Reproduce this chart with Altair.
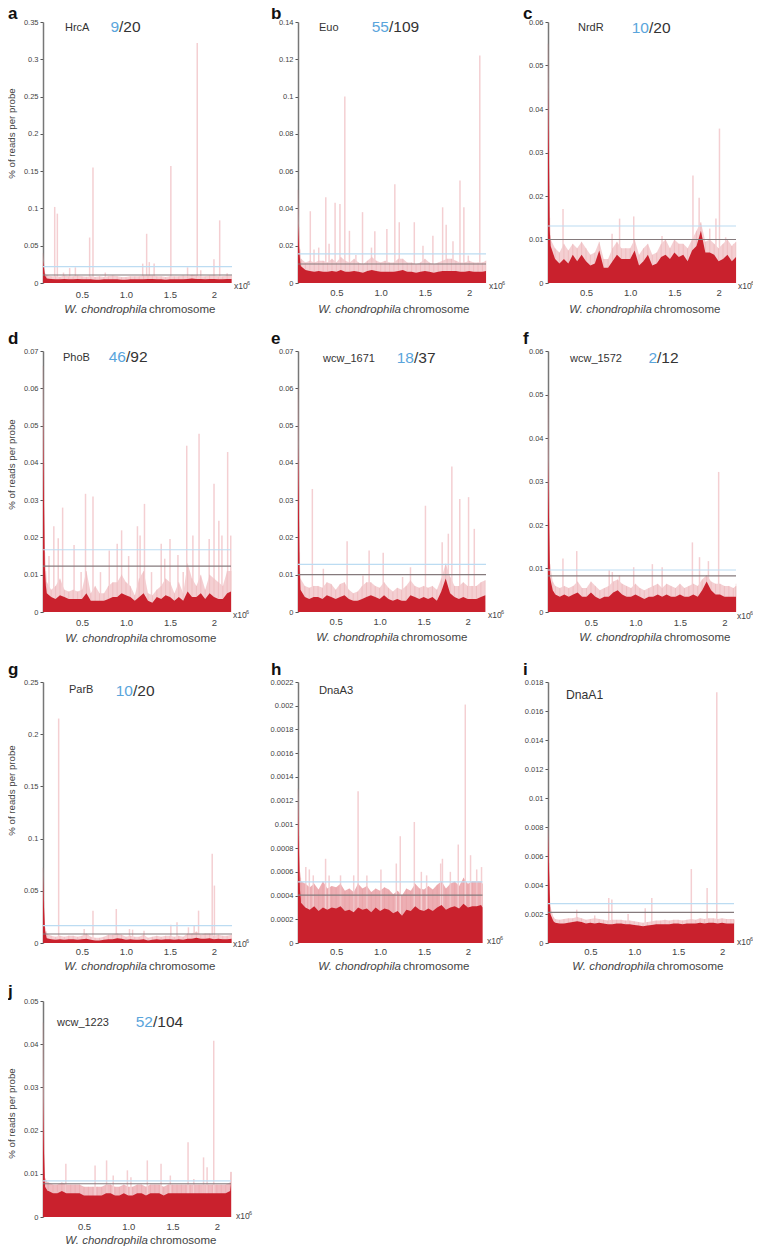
import altair as alt

FONT = "Liberation Sans"
POS = [0.10,0.15,0.20,0.25,0.30,0.35,0.40,0.45,0.50,0.55,
       0.60,0.65,0.70,0.75,0.80,0.85,0.90,0.95,1.00,1.05,
       1.10,1.15,1.20,1.25,1.30,1.35,1.40,1.45,1.50,1.55,
       1.60,1.65,1.70,1.75,1.80,1.85,1.90,1.95,2.00,2.05,
       2.10,2.15,2.20]

# profiles in units of 0.001 %
A_DARK = [6,5.5,5,5,5.5,5,5,5.5,5,5, 5,4.5,4.5,5,5,5,5,4.5,4.5,5, 5,5,5,5.5,5.5,5,5,4.5,5,5, 5,5,5.5,6,5.5,5.5,5,5.5,5.5,5, 5,5.5,5.5]
A_FUZZ = [11,9,9,8.5,10,9,9,10,9,8.5, 9,8,9,8,9,10,9,8,8,9, 9,9,10,10,10,9,9,8,9,9, 9,10,9,11,10,9,9,10,10,9, 9,10,10]
B_DARK = [9,7,6.5,6,6.5,6,6,6.5,6,7, 6,6,6.5,6,5.5,6.5,7,6.5,6,6, 6,6,6.5,7,6,6,5.5,6,6.5,6, 5.5,6,6.5,6.5,6.5,6.5,6,6,6.5,6, 6,6,6.5]
B_FUZZ = [13,11,12,11,12,12,11,13,11,14, 12,11,13,11,10,12,14,12,11,12, 11,11,13,13,11,11,10,11,13,11, 10,11,12,13,13,12,11,11,12,11, 11,11,12]
C_DARK = [8.5,5.5,4.5,5.5,4.5,6.5,5,6.5,5,4, 4.5,7.5,3.5,3.5,5,6.5,5.5,5.5,5.5,7.5, 4,5,6.5,4,4.5,6,6.5,5.5,7,6, 6.5,5,7.5,8.5,12,7,7,6.5,5,5.5, 6.5,5,6]
C_FUZZ = [10,8,7,9,7.5,9,8,9.5,8,6.5, 7,9.5,5.5,5.5,8,9.5,8,8,8,10, 6.5,8,9,6.5,7,9,10,8,10,9, 9,8,10,12,14,9.5,10,9,8,9, 10,8.5,9.5]
D_DARK = [5,4,3.5,4.5,4,3.5,3.5,3.5,3.5,5, 3,3,3,3,3.5,4,4,5,4.5,4, 3,4,5,3,2.5,4,3.5,4.5,4,3, 4,3,5.5,4,4,5,3.5,5,4,3.5, 3.5,5,5.5]
D_FUZZ = [8,6,7,9,6,5.5,6,5.5,6,11, 5,7,5,5,7,8,8,10,8,7, 4.5,9,11,5,4.5,6,7,9,8,5, 8,5,13,9,7,10,6,10,9,8, 7,11,11]
E_DARK = [6,4,3.5,4,4,3.5,4.5,4,3.5,4, 4.5,3.5,3,3,3.5,4,4.5,4,3.5,4.5, 3.5,3,3.5,3,3,4.5,4,3.5,4,3.5, 4,3,5.5,9,5,4,3.5,4,3.5,3.5, 3.5,4,4.5]
E_FUZZ = [9,7,6.5,7,7,6.5,8,7.5,6,7.5, 8,6,5,5.5,7,8,8,7,6.5,8, 6.5,5.5,6.5,6,7,8.5,7,6.5,7,6.5, 7,6,9,13,9.5,7,7,8,7,7, 7,8,8.5]
F_DARK = [4,3.5,4,3.5,4,4.5,3.5,3.5,4.5,3.5, 3,3.5,3.5,4.5,5,4,3.5,3.5,4,3.5, 3,3.5,3.5,4,3.5,4,3.5,3.5,4,3.5, 3.5,4,3.5,5,7,5,4,4,3.5,3.5, 3.5,3.5,4]
F_FUZZ = [6,5.5,6,5.5,6,7,5.5,5.5,7,6, 5,5.5,6,7,7.5,6.5,6,5.5,6.5,5.5, 5,5.5,6,6.5,5.5,6.5,6,5.5,6.5,5.5, 6,6.5,6,7.5,8.5,7,6.5,6.5,6,6, 5.5,6,6.5]
G_DARK = [4.5,3.5,3,3.5,3,3.5,3.5,3,3.5,4, 3,2.5,2.5,3,3.5,3.5,4.5,4,3,3.5, 3,3,3.5,2.5,3,3.5,3,3.5,3.5,3, 3.5,3,4,4,5,4,4,4.5,3.5,4, 3.5,3.5,4]
G_FUZZ = [9,7,6,7,6,7,7,6,7,9, 6,5,5,6,8,8,9,8,6,7, 6,6,8,5,6,7,6,7,7,6, 7,6,9,9,11,8,9,9,7,8, 7,7,8]
H_DARK = [.34,.30,.28,.31,.27,.30,.28,.30,.29,.31, .27,.28,.26,.30,.28,.29,.26,.30,.27,.29, .28,.25,.27,.23,.28,.27,.31,.28,.27,.29, .27,.30,.32,.28,.30,.31,.29,.33,.30,.31, .31,.32,.30]
H_FUZZ = [.52,.50,.47,.50,.45,.52,.46,.48,.47,.50, .44,.46,.43,.50,.46,.48,.43,.46,.44,.47, .45,.41,.44,.40,.46,.44,.50,.46,.45,.48, .45,.49,.52,.46,.50,.52,.48,.55,.50,.52, .52,.52,.50]
I_DARK = [1.4,1.35,1.35,1.4,1.45,1.5,1.45,1.35,1.4,1.35, 1.4,1.35,1.3,1.3,1.35,1.35,1.3,1.3,1.25,1.2, 1.15,1.2,1.25,1.3,1.3,1.3,1.3,1.35,1.35,1.3, 1.35,1.35,1.35,1.4,1.35,1.4,1.4,1.35,1.4,1.35, 1.35,1.35,1.35]
I_FUZZ = [1.65,1.6,1.65,1.7,1.7,1.8,1.7,1.6,1.65,1.7, 1.65,1.6,1.55,1.6,1.6,1.6,1.55,1.55,1.5,1.45, 1.4,1.45,1.5,1.55,1.55,1.6,1.55,1.6,1.6,1.55, 1.6,1.65,1.6,1.7,1.65,1.7,1.7,1.65,1.7,1.65, 1.65,1.65,1.6]
J_DARK = [6,5.5,5.5,6,5.5,5.5,5.5,5.5,5,5, 5,5,5,5.5,5.5,5,5,5.5,5,5, 5.5,5.5,5,5.5,5.5,5.5,5,5.5,5.5,5.5, 5.5,5.5,5.5,5.5,5.5,5.5,5.5,5.5,5.5,5.5, 5.5,6,8]
J_FUZZ = [8,7.5,7.5,8,7.5,7.5,7.5,7.5,7,7, 7,7,7,7.5,7.5,7,7,7.5,7,7, 7.5,7.5,7,7.5,7.5,7.5,7,7.5,7.5,7.5, 7.5,7.5,7.5,7.5,7.5,7.5,7.5,7.5,7.5,7.5, 7.5,8,10.5]

A_PEAK_X = [.057,.068,.08,.095]; A_PEAK_DARK = [30,20,10,7]; A_PEAK_FUZZ = [40,25,13,10]
B_PEAK_X = [.066,.077,.09,.098]; B_PEAK_DARK = [32,20,12,9]; B_PEAK_FUZZ = [50,30,18,13]
C_PEAK_X = [.07,.08,.09,.098]; C_PEAK_DARK = [45,30,12,9]; C_PEAK_FUZZ = [55,35,15,11]
D_PEAK_X = [.057,.068,.078,.09]; D_PEAK_DARK = [53,30,12,7]; D_PEAK_FUZZ = [66,40,16,11]
E_PEAK_X = [.072,.082,.09,.098]; E_PEAK_DARK = [45,28,12,7]; E_PEAK_FUZZ = [60,38,16,10]
F_PEAK_X = [.017,.028,.04,.07]; F_PEAK_DARK = [35,22,8,5]; F_PEAK_FUZZ = [50,28,11,7]
G_PEAK_X = [.057,.068,.08,.095]; G_PEAK_DARK = [65,35,12,6]; G_PEAK_FUZZ = [72,40,15,11]
H_PEAK_X = [.066,.076,.088,.097]; H_PEAK_DARK = [1.18,.8,.45,.38]; H_PEAK_FUZZ = [1.3,.9,.6,.55]
I_PEAK_X = [.018,.03,.045,.08]; I_PEAK_DARK = [7.6,5,2,1.5]; I_PEAK_FUZZ = [8,5.5,2.5,1.8]
J_PEAK_X = [.037,.048,.06,.09]; J_PEAK_DARK = [28,15,7,6]; J_PEAK_FUZZ = [45,20,9,8]

A_SX = [.19,.22,.587,.625,.36,.29,.425,1.19,1.235,1.265,1.32,1.51,1.70,1.81,1.85,2.0,2.065,2.15,.765]
A_SY = [.102,.093,.061,.155,.02,.014,.021,.026,.066,.028,.026,.157,.021,.322,.017,.032,.084,.013,.014]
B_SX = [.205,.38,.417,.485,.54,.595,.647,.795,.896,.934,1.07,1.16,1.21,1.38,1.478,1.59,1.70,1.74,1.817,1.896,1.94,1.99,2.12,.30,.247,.72]
B_SY = [.0385,.046,.021,.043,.0424,.1,.028,.038,.019,.0277,.029,.053,.0326,.0326,.02,.0254,.0406,.0313,.0224,.055,.0406,.0147,.122,.019,.018,.015]
C_SX = [.24,.88,1.04,1.71,1.78,1.97,2.01,.795,1.36,1.90,2.08,2.17]
C_SY = [.017,.0148,.0153,.0247,.0196,.0148,.0355,.0113,.0108,.0125,.0105,.009]
D_SX = [.18,.23,.28,.41,.54,.625,.81,.90,.95,1.03,1.13,1.16,1.21,1.40,1.50,1.59,1.69,1.76,1.83,1.945,2.0,2.055,2.09,2.155,2.19,.125,.49,.71,1.29,1.44,1.65]
D_SY = [.023,.0198,.028,.018,.0317,.031,.0165,.0183,.0219,.015,.023,.0205,.029,.0183,.0196,.0153,.0446,.0205,.0478,.0196,.0344,.0245,.0205,.0429,.0205,.015,.0107,.0107,.0107,.0143,.0107]
E_SX = [.235,.63,.88,1.04,1.26,1.35,1.52,1.71,1.78,1.82,1.91,2.01,2.075,.36,.81]
E_SY = [.033,.019,.0165,.0159,.0094,.012,.0285,.0187,.021,.039,.0303,.0308,.0223,.0116,.0098]
F_SX = [.185,.34,.705,.74,.98,1.19,1.30,1.64,1.72,1.82,1.935,.82]
F_SY = [.0123,.014,.0096,.0092,.0103,.011,.0103,.016,.0126,.0117,.0322,.0084]
G_SX = [.235,.625,.89,1.04,1.075,1.205,.525,1.51,1.58,1.71,1.775,1.825,1.98,2.005]
G_SY = [.215,.031,.0326,.0134,.0128,.0118,.0134,.0176,.0198,.015,.0166,.031,.0854,.055]
H_SX = [.155,.195,.24,.38,.75,.70,1.01,1.23,1.185,1.39,1.47,1.69,1.71,1.89,1.97,2.03,2.10,2.155,.42,.55,.85,1.53,1.8]
H_SY = [.00064,.00062,.00057,.00071,.00128,.00057,.00062,.0009,.00067,.00102,.0006,.00067,.00071,.00083,.00201,.00074,.00062,.00064,.00057,.00057,.00057,.00057,.0006]
I_SX = [.345,.55,.71,.745,.93,1.125,1.2,1.65,1.83,1.94]
I_SY = [.0023,.0019,.0031,.003,.002,.0024,.0031,.0051,.0038,.0173]
J_SX = [.295,.625,.755,.83,.99,1.03,1.215,1.37,1.475,1.675,1.74,1.85,1.89,1.965,2.16]
J_SY = [.0123,.0119,.0131,.0096,.0108,.0092,.0131,.0123,.0096,.0173,.0088,.0138,.0115,.0408,.0104]

A_TICKS = [0,.05,.1,.15,.2,.25,.3,.35]
B_TICKS = [0,.02,.04,.06,.08,.1,.12,.14]
C_TICKS = [0,.01,.02,.03,.04,.05,.06]
D_TICKS = [0,.01,.02,.03,.04,.05,.06,.07]
F_TICKS = [0,.01,.02,.03,.04,.05,.06]
G_TICKS = [0,.05,.1,.15,.2,.25]
H_TICKS = [0,.0002,.0004,.0006,.0008,.001,.0012,.0014,.0016,.0018,.002,.0022]
I_TICKS = [0,.002,.004,.006,.008,.01,.012,.014,.016,.018]
J_TICKS = [0,.01,.02,.03,.04,.05]
X_TICKS = [0.5,1.0,1.5,2.0]

PANELS = [
 dict(k="a",name="HrcA",hit="9",tot="/20",dark=A_DARK,fuzz=A_FUZZ,px=A_PEAK_X,pd=A_PEAK_DARK,pf=A_PEAK_FUZZ,sx=A_SX,sy=A_SY,ticks=A_TICKS,blue=.022,gray=.0107,fop=.5,
      xd=[.057,2.205],w=189,col=254.5,H=261,ph=261,keyx=-35,keyy=-3,nx=22,ny=6,fx=76,fy=5,ns=11,lp=6,tx=105,ty=27,ex=191,ey=3,ylab=111),
 dict(k="b",name="Euo",hit="55",tot="/109",dark=B_DARK,fuzz=B_FUZZ,px=B_PEAK_X,pd=B_PEAK_DARK,pf=B_PEAK_FUZZ,sx=B_SX,sy=B_SY,ticks=B_TICKS,blue=.0156,gray=.0102,fop=.5,
      xd=[.066,2.19],w=188,col=249.5,H=261,ph=261,keyx=-27,keyy=-3,nx=21,ny=6,fx=91,fy=5,ns=11,lp=4,tx=104,ty=27,ex=191,ey=3),
 dict(k="c",name="NrdR",hit="10",tot="/20",dark=C_DARK,fuzz=C_FUZZ,px=C_PEAK_X,pd=C_PEAK_DARK,pf=C_PEAK_FUZZ,sx=C_SX,sy=C_SY,ticks=C_TICKS,blue=.0131,gray=.01,fop=.5,
      xd=[.07,2.197],w=188,col=188,H=261,ph=261,keyx=-25,keyy=-3,nx=30,ny=6,fx=101,fy=6,ns=11,lp=4,tx=105,ty=27,ex=190,ey=3),
 dict(k="d",name="PhoB",hit="46",tot="/92",dark=D_DARK,fuzz=D_FUZZ,px=D_PEAK_X,pd=D_PEAK_DARK,pf=D_PEAK_FUZZ,sx=D_SX,sy=D_SY,ticks=D_TICKS,blue=.0167,gray=.0123,fop=.5,
      xd=[.057,2.193],w=188,col=254.5,H=329,ph=261,keyx=-35,keyy=-7,nx=20,ny=7,fx=83,fy=6,ns=11,lp=5,tx=106,ty=27,ex=190,ey=3,ylab=113),
 dict(k="e",name="wcw_1671",hit="18",tot="/37",dark=E_DARK,fuzz=E_FUZZ,px=E_PEAK_X,pd=E_PEAK_DARK,pf=E_PEAK_FUZZ,sx=E_SX,sy=E_SY,ticks=D_TICKS,blue=.01275,gray=.01,fop=.5,
      xd=[.072,2.208],w=188,col=249.5,H=329,ph=261,keyx=-27,keyy=-7,nx=25,ny=8,fx=116,fy=7,ns=11,lp=4,tx=102,ty=26,ex=190,ey=3),
 dict(k="f",name="wcw_1572",hit="2",tot="/12",dark=F_DARK,fuzz=F_FUZZ,px=F_PEAK_X,pd=F_PEAK_DARK,pf=F_PEAK_FUZZ,sx=F_SX,sy=F_SY,ticks=F_TICKS,blue=.00966,gray=.0083,fop=.5,
      xd=[.017,2.13],w=188,col=188,H=329,ph=261,keyx=-25,keyy=-7,nx=22,ny=8,fx=109,fy=7,ns=11,lp=5,tx=115,ty=26,ex=189,ey=4),
 dict(k="g",name="ParB",hit="10",tot="/20",dark=G_DARK,fuzz=G_FUZZ,px=G_PEAK_X,pd=G_PEAK_DARK,pf=G_PEAK_FUZZ,sx=G_SX,sy=G_SY,ticks=G_TICKS,blue=.0166,gray=.0086,fop=.5,
      xd=[.057,2.205],w=189,col=254.5,H=331,ph=261,keyx=-35,keyy=-7,nx=26,ny=8,fx=90,fy=9,ns=11,lp=3,tx=105,ty=24,ex=190,ey=1,ylab=108),
 dict(k="h",name="DnaA3",hit="",tot="",dark=H_DARK,fuzz=H_FUZZ,px=H_PEAK_X,pd=H_PEAK_DARK,pf=H_PEAK_FUZZ,sx=H_SX,sy=H_SY,ticks=H_TICKS,blue=.000516,gray=.000404,fop=.85,
      xd=[.066,2.166],w=184.5,col=249.5,H=331,ph=261,keyx=-27,keyy=-7,nx=21,ny=9,fx=0,fy=0,ns=11.2,lp=3,tx=104,ty=24,ex=189,ey=-2),
 dict(k="i",name="DnaA1",hit="",tot="",dark=I_DARK,fuzz=I_FUZZ,px=I_PEAK_X,pd=I_PEAK_DARK,pf=I_PEAK_FUZZ,sx=I_SX,sy=I_SY,ticks=I_TICKS,blue=.00271,gray=.00211,fop=.5,
      xd=[.018,2.136],w=186,col=188,H=331,ph=261,keyx=-25,keyy=-7,nx=18,ny=13,fx=0,fy=0,ns=12.2,lp=3,tx=108,ty=24,ex=189,ey=-1),
 dict(k="j",name="wcw_1223",hit="52",tot="/104",dark=J_DARK,fuzz=J_FUZZ,px=J_PEAK_X,pd=J_PEAK_DARK,pf=J_PEAK_FUZZ,sx=J_SX,sy=J_SY,ticks=J_TICKS,blue=.00838,gray=.0077,fop=.7,
      xd=[.037,2.16],w=188,col=254.5,H=274,ph=216,keyx=-35,keyy=-4,nx=14,ny=22,fx=110,fy=21,ns=11,lp=4,tx=106,ty=24,ex=193,ey=-1,ylab=112),
]

GRAY = "#555555"
BLUE = "#5aa5dc"
INK = "#333333"


def note(txt, x, y, size, color=INK, align="left", **kw):
    return alt.Chart(alt.Data(values=[{}])).mark_text(
        text=txt, font=FONT, fontSize=size, color=color, align=align, baseline="middle", **kw
    ).encode(x=alt.value(x), y=alt.value(y))


def panel(p):
    top = p["H"] - p["ph"]
    xs = alt.Scale(domain=p["xd"], range=[0, p["w"]], clamp=True, nice=False, zero=False)
    ys = alt.Scale(domain=[p["ticks"][0], p["ticks"][-1]], range=[p["H"], top], nice=False, zero=True, clamp=True)
    xx = p["px"] + POS
    dark = [v / 1000 for v in p["pd"] + p["dark"]]
    fuzz = [v / 1000 for v in p["pf"] + p["fuzz"]]
    prof = [{"x": a, "d": b, "f": c} for a, b, c in zip(xx, dark, fuzz)]
    spikes = [{"x": a, "y": b} for a, b in zip(p["sx"], p["sy"])]

    ax_x = alt.Axis(values=X_TICKS, domain=False, ticks=False, grid=False, title=None, labelFont=FONT,
                    labelFontSize=9.5, labelColor="#444444", labelPadding=p["lp"], tickSize=0,
                    labelExpr="datum.value == 2 ? '2' : format(datum.value, '.1f')")
    ykw = dict(title=None)
    if "ylab" in p:
        ykw = dict(title="% of reads per probe", titleFont=FONT, titleFontSize=9.7, titleFontWeight="normal",
                   titleColor="#444444", titleX=-27, titleY=top + p["ylab"], titleAngle=270, titlePadding=0)
    ax_y = alt.Axis(values=p["ticks"], grid=False, labelFont=FONT, labelFontSize=7.5, labelColor="#444444",
                    labelPadding=2, tickSize=3, tickColor=GRAY, domainColor="#777777", domainWidth=1.5,
                    tickWidth=1, labelExpr="'' + datum.value", labelOverlap=False, **ykw)

    X = alt.X("x:Q", scale=xs, axis=ax_x)
    fuzz_l = alt.Chart(alt.Data(values=prof)).mark_area(color="#eaa0a6", opacity=p["fop"]).encode(
        x=X, y=alt.Y("f:Q", scale=ys, axis=ax_y))
    comb_l = alt.Chart(alt.Data(values=prof)).mark_rule(color="#e58e95", strokeWidth=1, opacity=0.25).encode(
        x=X, y=alt.Y("f:Q", scale=ys, axis=ax_y), y2=alt.datum(0))
    spike_l = alt.Chart(alt.Data(values=spikes)).mark_rule(color="#f4cfd2", strokeWidth=1.5).encode(
        x=X, y=alt.Y("y:Q", scale=ys, axis=ax_y), y2=alt.datum(0))
    dark_l = alt.Chart(alt.Data(values=prof)).mark_area(color="#c9212d").encode(
        x=X, y=alt.Y("d:Q", scale=ys, axis=ax_y))
    blue_l = alt.Chart(alt.Data(values=[{"v": p["blue"]}])).mark_rule(color="#bcdcf2", strokeWidth=1.2).encode(
        y=alt.Y("v:Q", scale=ys, axis=ax_y), x=alt.value(0), x2=alt.value(p["w"]))
    gray_l = alt.Chart(alt.Data(values=[{"v": p["gray"]}])).mark_rule(color="#857a7c", strokeWidth=1.2).encode(
        y=alt.Y("v:Q", scale=ys, axis=ax_y), x=alt.value(0), x2=alt.value(p["w"]))

    layers = [fuzz_l, spike_l, comb_l, dark_l, blue_l, gray_l]
    H = p["H"]
    layers += [
        note(p["k"], p["keyx"], top + p["keyy"] - 5, 17, color="#111111", fontWeight="bold"),
        note(p["name"], p["nx"], top + p["ny"], p["ns"]),
        note("W. chondrophila", p["tx"] - 1, H + p["ty"], 11.5, color="#444444", align="right", fontStyle="italic"),
        note("chromosome", p["tx"] + 1, H + p["ty"], 11.5, color="#444444"),
        note("x10", p["ex"], H + p["ey"], 8.5, color="#444444"),
        note("6", p["ex"] + 13, H + p["ey"] - 3, 5.5, color="#444444"),
    ]
    if p["hit"]:
        layers += [
            note(p["hit"], p["fx"], top + p["fy"], 15.5, color=BLUE, align="right"),
            note(p["tot"], p["fx"], top + p["fy"], 15.5),
        ]
    return alt.layer(*layers).properties(width=p["col"], height=H)


chart = alt.concat(*[panel(p) for p in PANELS], columns=3, spacing=0, bounds="flush", align="each").properties(
    padding={"left": -2, "top": -3, "right": -2, "bottom": 0}, background="white"
).configure_view(stroke=None)

chart.save("out.html", embed_options={"renderer": "svg", "actions": False})
